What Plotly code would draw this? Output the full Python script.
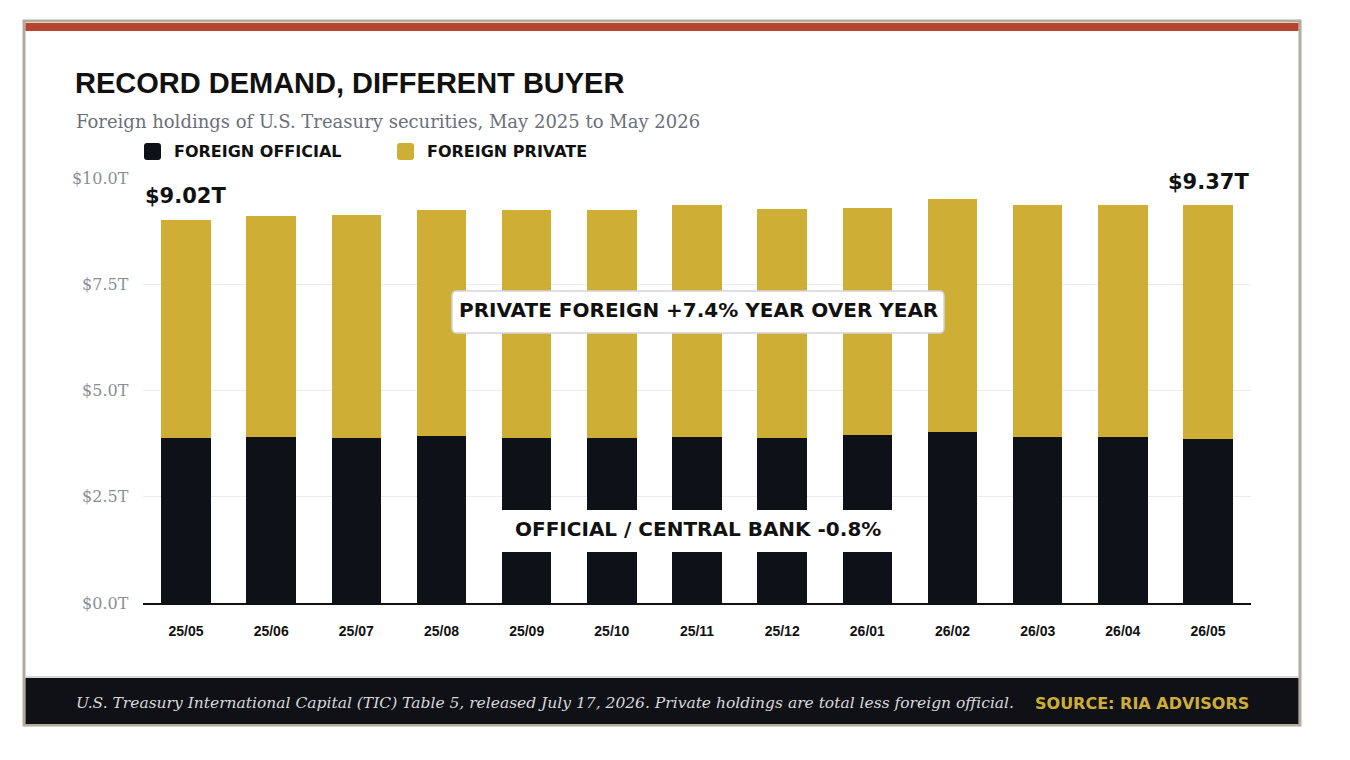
import plotly.graph_objects as go

# ---------------- data ----------------
months = ["25/05", "25/06", "25/07", "25/08", "25/09", "25/10", "25/11",
          "25/12", "26/01", "26/02", "26/03", "26/04", "26/05"]
official = [3.88, 3.91, 3.88, 3.93, 3.88, 3.88, 3.91, 3.88, 3.95, 4.02, 3.91, 3.91, 3.85]
private = [5.14, 5.20, 5.25, 5.32, 5.37, 5.37, 5.45, 5.39, 5.34, 5.49, 5.45, 5.45, 5.52]
y_tickvals = [0, 2.5, 5, 7.5, 10]
y_ticktext = ["$0.0T", "$2.5T", "$5.0T", "$7.5T", "$10.0T"]
start_label = "$9.02T"
end_label = "$9.37T"

# ---------------- style ----------------
W, H = 1350, 760
BLACK = "#0f1118"
GOLD = "#cfae36"
RED = "#b5452f"
BORDER = "#b3ab9b"
SANS = "Liberation Sans, Arial, sans-serif"
HEAVY = "DejaVu Sans, Verdana, sans-serif"
SERIF = "DejaVu Serif, Georgia, serif"


def px(x):
    return x / W


def py(y):
    return 1 - y / H


fig = go.Figure()
fig.add_trace(go.Bar(x=months, y=official, name="FOREIGN OFFICIAL",
                     marker=dict(color=BLACK, line=dict(width=0)), showlegend=False))
fig.add_trace(go.Bar(x=months, y=private, name="FOREIGN PRIVATE",
                     marker=dict(color=GOLD, line=dict(width=0)), showlegend=False))

shapes = []
# card
shapes.append(dict(type="rect", xref="paper", yref="paper", x0=px(24), x1=px(1300),
                   y0=py(725), y1=py(21), fillcolor="white",
                   line=dict(color=BORDER, width=3), layer="below"))
# red top bar
shapes.append(dict(type="rect", xref="paper", yref="paper", x0=px(25.5), x1=px(1298.5),
                   y0=py(31), y1=py(23), fillcolor=RED, line=dict(width=0), layer="below"))
# footer band
shapes.append(dict(type="rect", xref="paper", yref="paper", x0=px(25.5), x1=px(1298.5),
                   y0=py(724), y1=py(678), fillcolor="#0f1117", line=dict(width=0), layer="below"))
shapes.append(dict(type="line", xref="paper", yref="paper", x0=px(25.5), x1=px(1298.5),
                   y0=py(677), y1=py(677), line=dict(color="#c9c9c9", width=1.5), layer="below"))


def rounded_rect(x0, y0, x1, y1, r):
    # pixel coords -> paper path with rounded corners
    rx, ry = r / W, r / H
    X0, X1 = px(x0), px(x1)
    Yt, Yb = py(y0), py(y1)
    return (f"M {X0+rx},{Yt} L {X1-rx},{Yt} Q {X1},{Yt} {X1},{Yt-ry} "
            f"L {X1},{Yb+ry} Q {X1},{Yb} {X1-rx},{Yb} L {X0+rx},{Yb} "
            f"Q {X0},{Yb} {X0},{Yb+ry} L {X0},{Yt-ry} Q {X0},{Yt} {X0+rx},{Yt} Z")


# legend squares
shapes.append(dict(type="path", xref="paper", yref="paper", path=rounded_rect(144, 143, 161, 160, 3),
                   fillcolor=BLACK, line=dict(width=0)))
shapes.append(dict(type="path", xref="paper", yref="paper", path=rounded_rect(397, 143, 414, 160, 3),
                   fillcolor=GOLD, line=dict(width=0)))
# private annotation box
shapes.append(dict(type="path", xref="paper", yref="paper", path=rounded_rect(452, 291, 944, 333, 5),
                   fillcolor="white", line=dict(color="#d4d4dc", width=1.5), layer="above"))
# official annotation white box
shapes.append(dict(type="rect", xref="paper", yref="paper", x0=px(478), x1=px(918),
                   y0=py(552), y1=py(510), fillcolor="white", line=dict(width=0), layer="above"))

ann = []
ann.append(dict(text="<b>RECORD DEMAND, DIFFERENT BUYER</b>", x=px(73), y=py(83), xref="paper", yref="paper",
                xanchor="left", yanchor="middle", showarrow=False, font=dict(family=SANS, size=29, color="#111111")))
ann.append(dict(text="Foreign holdings of U.S. Treasury securities, May 2025 to May 2026", x=px(74), y=py(122),
                xref="paper", yref="paper", xanchor="left", yanchor="middle", showarrow=False,
                font=dict(family=SERIF, size=18, color="#6b6f7a")))
ann.append(dict(text="<b>FOREIGN OFFICIAL</b>", x=px(172), y=py(151.5), xref="paper", yref="paper",
                xanchor="left", yanchor="middle", showarrow=False, font=dict(family=HEAVY, size=16, color="#111111")))
ann.append(dict(text="<b>FOREIGN PRIVATE</b>", x=px(425), y=py(151.5), xref="paper", yref="paper",
                xanchor="left", yanchor="middle", showarrow=False, font=dict(family=HEAVY, size=16, color="#111111")))
ann.append(dict(text="<b>PRIVATE FOREIGN +7.4% YEAR OVER YEAR</b>", x=px(698), y=py(310), xref="paper", yref="paper",
                xanchor="center", yanchor="middle", showarrow=False, font=dict(family=HEAVY, size=20, color="#111111")))
ann.append(dict(text="<b>OFFICIAL / CENTRAL BANK -0.8%</b>", x=px(698), y=py(529), xref="paper", yref="paper",
                xanchor="center", yanchor="middle", showarrow=False, font=dict(family=HEAVY, size=20, color="#111111")))
# value labels via data coords
ann.append(dict(text=f"<b>{start_label}</b>", x=months[0], y=official[0] + private[0], xref="x", yref="y",
                yshift=24, xanchor="center", yanchor="middle", showarrow=False, bgcolor="white",
                font=dict(family=HEAVY, size=21, color="#111111")))
ann.append(dict(text=f"<b>{end_label}</b>", x=months[-1], y=official[-1] + private[-1], xref="x", yref="y",
                yshift=23, xanchor="center", yanchor="middle", showarrow=False, bgcolor="white",
                font=dict(family=HEAVY, size=21, color="#111111")))
# footer
ann.append(dict(text="<i>U.S. Treasury International Capital (TIC) Table 5, released July 17, 2026. Private holdings are total less foreign official.</i>",
                x=px(74), y=py(703), xref="paper", yref="paper", xanchor="left", yanchor="middle",
                showarrow=False, font=dict(family=SERIF, size=15.5, color="#d8d8dc")))
ann.append(dict(text="<b>SOURCE: RIA ADVISORS</b>", x=px(1251), y=py(703), xref="paper", yref="paper",
                xanchor="right", yanchor="middle", showarrow=False, font=dict(family=HEAVY, size=16, color=GOLD)))

fig.update_layout(
    width=W, height=H, margin=dict(l=0, r=0, t=0, b=0),
    paper_bgcolor="white", plot_bgcolor="rgba(0,0,0,0)",
    barmode="stack", bargap=0.42,
    shapes=shapes, annotations=ann, showlegend=False,
    xaxis=dict(domain=[px(143.4), px(1250.6)], showgrid=False, showline=True, linecolor="#111111",
               linewidth=2, ticks="", ticklabelstandoff=14, automargin=False,
               tickfont=dict(family=SANS, size=14, color="#111111", weight="bold"), fixedrange=True),
    yaxis=dict(domain=[py(603), py(178)], range=[0, 10], tickvals=y_tickvals, ticktext=y_ticktext,
               showgrid=True, gridcolor="#ebebeb", gridwidth=1, zeroline=False, showline=False,
               ticks="", ticklabelstandoff=14, automargin=False,
               tickfont=dict(family=SERIF, size=16, color="#8a8e98"), fixedrange=True),
)

fig.write_html("out.html")
